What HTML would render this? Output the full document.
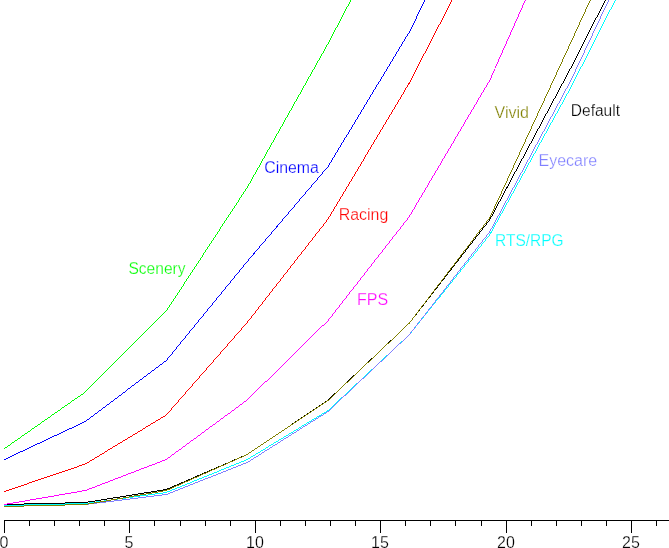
<!DOCTYPE html>
<html><head><meta charset="utf-8"><title>Gamma curves</title>
<style>
html,body{margin:0;padding:0;background:#fff;}
svg{display:block;}
text{font-family:"Liberation Sans",Arial,sans-serif;font-size:16px;stroke:#fff;stroke-width:0.25px;}
</style></head><body>
<svg width="669" height="548" viewBox="0 0 669 548">
<rect width="669" height="548" fill="#fff"/>
<g stroke="none" shape-rendering="crispEdges">
<path fill="#00ff00" d="M4.00 448.35L85.90 391.15L85.90 392.15L4.00 449.35ZM84.40 392.50L166.31 310.50L167.31 310.50L85.40 392.50ZM165.48 311.50L247.04 187.00L248.04 187.00L166.48 311.50ZM246.43 188.00L327.89 43.00L328.89 43.00L247.43 188.00ZM327.35 44.00L408.78 -111.50L409.78 -111.50L328.35 44.00Z"/>
<path fill="#0000ff" d="M4.00 459.23L85.90 420.77L85.90 421.77L4.00 460.23ZM84.90 421.38L166.81 359.62L166.81 360.62L84.90 422.38ZM165.40 361.00L247.12 261.00L248.12 261.00L166.40 361.00ZM246.28 262.00L328.04 166.00L329.04 166.00L247.28 262.00ZM327.31 167.00L408.82 32.00L409.82 32.00L328.31 167.00ZM408.27 33.00L489.67 -130.00L490.67 -130.00L409.27 33.00Z"/>
<path fill="#ff0000" d="M4.00 491.17L85.90 463.33L85.90 464.33L4.00 492.17ZM84.90 463.80L166.81 414.20L166.81 415.20L84.90 464.80ZM165.37 415.50L247.15 322.00L248.15 322.00L166.37 415.50ZM246.32 323.00L328.00 218.50L329.00 218.50L247.32 323.00ZM327.31 219.50L408.81 83.00L409.81 83.00L328.31 219.50ZM408.26 84.00L489.68 -73.50L490.68 -73.50L409.26 84.00Z"/>
<path fill="#00ffff" d="M4.00 505.01L85.90 502.99L85.90 503.99L4.00 506.01ZM84.90 503.07L166.81 491.93L166.81 492.93L84.90 504.07ZM165.81 492.20L247.71 458.80L247.71 459.80L165.81 493.20ZM246.71 459.30L328.61 409.70L328.61 410.70L246.71 460.30ZM327.61 410.47L409.52 334.03L409.52 335.03L327.61 411.47ZM408.11 335.50L489.82 234.00L490.82 234.00L409.11 335.50ZM489.14 235.00L570.60 87.00L571.60 87.00L490.14 235.00ZM570.07 88.00L651.48 -72.00L652.48 -72.00L571.07 88.00Z"/>
<path fill="#8080ff" d="M4.00 506.01L85.90 503.99L85.90 504.99L4.00 507.01ZM84.90 504.06L166.81 493.94L166.81 494.94L84.90 505.06ZM165.81 494.20L247.71 461.80L247.71 462.80L165.81 495.20ZM246.71 462.32L328.61 410.68L328.61 411.68L246.71 463.32ZM327.61 411.47L409.52 334.03L409.52 335.03L327.61 412.47ZM408.13 335.50L489.81 231.00L490.81 231.00L409.13 335.50ZM489.15 232.00L570.59 80.00L571.59 80.00L490.15 232.00ZM570.09 81.00L651.46 -91.50L652.46 -91.50L571.09 81.00Z"/>
<path fill="#000000" d="M4.00 504.01L85.90 501.99L85.90 502.99L4.00 505.01ZM84.90 502.08L166.81 488.92L166.81 489.92L84.90 503.08ZM165.81 489.22L247.71 453.78L247.71 454.78L165.81 490.22ZM246.71 454.34L328.61 399.16L328.61 400.16L246.71 455.34ZM327.61 399.97L409.52 322.53L409.52 323.53L327.61 400.97ZM408.13 324.00L489.81 219.00L490.81 219.00L409.13 324.00ZM489.15 220.00L570.59 67.50L571.59 67.50L490.15 220.00ZM570.07 68.50L651.48 -91.50L652.48 -91.50L571.07 68.50Z"/>
<path fill="#808000" d="M4.00 506.01L85.90 503.99L85.90 504.99L4.00 507.01ZM84.90 504.09L166.81 489.91L166.81 490.91L84.90 505.09ZM165.81 490.22L247.71 453.78L247.71 454.78L165.81 491.22ZM246.71 454.33L328.61 399.67L328.61 400.67L246.71 455.33ZM327.61 400.48L409.52 322.52L409.52 323.52L327.61 401.48ZM408.13 324.00L489.80 217.00L490.80 217.00L409.13 324.00ZM489.19 218.00L570.55 42.00L571.55 42.00L490.19 218.00ZM570.09 43.00L651.46 -134.00L652.46 -134.00L571.09 43.00Z"/>
<path fill="#ff00ff" d="M4.00 504.09L85.90 489.91L85.90 490.91L4.00 505.09ZM84.90 490.19L166.81 458.81L166.81 459.81L84.90 491.19ZM165.81 459.37L247.71 399.13L247.71 400.13L165.81 460.37ZM246.71 399.99L328.61 319.51L328.61 320.51L246.71 400.99ZM327.22 321.00L408.91 216.50L409.91 216.50L328.22 321.00ZM408.22 217.50L489.71 79.50L490.71 79.50L409.22 217.50ZM489.20 80.50L570.54 -103.00L571.54 -103.00L490.20 80.50Z"/>
</g>
<g fill="#000" shape-rendering="crispEdges">
<rect x="4" y="520" width="665" height="1"/>
<rect x="4" y="520" width="1" height="13"/>
<rect x="29" y="520" width="1" height="6"/>
<rect x="54" y="520" width="1" height="6"/>
<rect x="79" y="520" width="1" height="6"/>
<rect x="104" y="520" width="1" height="6"/>
<rect x="129" y="520" width="1" height="13"/>
<rect x="154" y="520" width="1" height="6"/>
<rect x="180" y="520" width="1" height="6"/>
<rect x="205" y="520" width="1" height="6"/>
<rect x="230" y="520" width="1" height="6"/>
<rect x="255" y="520" width="1" height="13"/>
<rect x="280" y="520" width="1" height="6"/>
<rect x="305" y="520" width="1" height="6"/>
<rect x="330" y="520" width="1" height="6"/>
<rect x="355" y="520" width="1" height="6"/>
<rect x="380" y="520" width="1" height="13"/>
<rect x="405" y="520" width="1" height="6"/>
<rect x="430" y="520" width="1" height="6"/>
<rect x="455" y="520" width="1" height="6"/>
<rect x="481" y="520" width="1" height="6"/>
<rect x="506" y="520" width="1" height="13"/>
<rect x="531" y="520" width="1" height="6"/>
<rect x="556" y="520" width="1" height="6"/>
<rect x="581" y="520" width="1" height="6"/>
<rect x="606" y="520" width="1" height="6"/>
<rect x="631" y="520" width="1" height="13"/>
<rect x="656" y="520" width="1" height="6"/>
</g>
<g fill="#000" text-anchor="middle">
<text x="4" y="548">0</text>
<text x="129" y="548">5</text>
<text x="255" y="548">10</text>
<text x="380" y="548">15</text>
<text x="506" y="548">20</text>
<text x="631" y="548">25</text>
</g>
<text x="128.4" y="274" fill="#00ff00" textLength="57.18" lengthAdjust="spacingAndGlyphs">Scenery</text>
<text x="264.3" y="173" fill="#0000ff" textLength="54.59" lengthAdjust="spacingAndGlyphs">Cinema</text>
<text x="338.7" y="220" fill="#ff0000" textLength="49.56" lengthAdjust="spacingAndGlyphs">Racing</text>
<text x="357" y="305" fill="#ff00ff">FPS</text>
<text x="494.5" y="117.5" fill="#808000">Vivid</text>
<text x="570.8" y="116" fill="#000000" textLength="49.18" lengthAdjust="spacingAndGlyphs">Default</text>
<text x="538.5" y="166" fill="#8080ff">Eyecare</text>
<text x="495.1" y="245.5" fill="#00ffff" textLength="68.49" lengthAdjust="spacingAndGlyphs">RTS/RPG</text>
</svg></body></html>
